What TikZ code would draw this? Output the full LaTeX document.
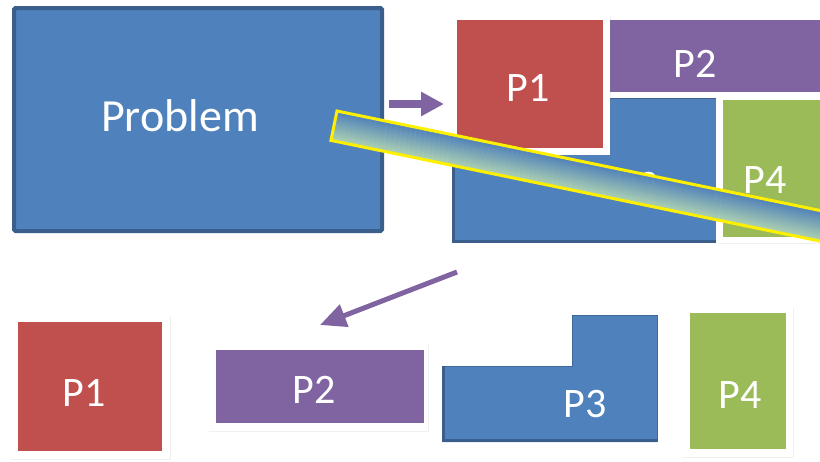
\documentclass[tikz,border=0pt]{standalone}
\usepackage{fontspec}
\setmainfont{Carlito}
\usetikzlibrary{arrows.meta,shadows}
\definecolor{pblue}{HTML}{4F81BD}
\definecolor{pdark}{HTML}{3A5F8C}
\definecolor{pred}{HTML}{C0504D}
\definecolor{ppurple}{HTML}{8064A2}
\definecolor{pgreen}{HTML}{9BBB59}
\definecolor{bandtop}{HTML}{4F80BA}
\definecolor{bandbot}{HTML}{AED2B2}
\definecolor{pyellow}{HTML}{FFF000}
\tikzset{
  tilebox/.style={fill=white, inner sep=0pt, draw=none,
    drop shadow={shadow xshift=1pt, shadow yshift=-1.2pt, opacity=0.12}},
  lbl/.style={text=white, inner sep=0pt, font=\fontsize{42}{46}\selectfont}
}
\begin{document}
\begin{tikzpicture}[x=1pt,y=-1pt]
\useasboundingbox (0,0) rectangle (820,461);
\clip (0,0) rectangle (820,461);
% Problem box
\draw[fill=pblue, draw=pdark, line width=4pt, rounded corners=1.5pt] (14,8) rectangle (382,231);
\node[text=white, inner sep=0pt, font=\fontsize{46}{50}\selectfont] (prob) at (180,116) {Problem};
\coordinate (probR) at (389,104);
\coordinate (compL) at (444,104);
% small arrow
\draw[ppurple, line width=8pt, -{Triangle[length=23pt,width=23pt]}] (probR) -- (compL);
% composite: blue P3
\draw[fill=pblue, draw=pdark, line width=3pt] (453,241) -- (453,150) -- (605,150) -- (605,97) -- (722,97) -- (722,241) -- cycle;
\node[lbl] (cp3) at (637,186) {P3};
% P2 tile
\path[tilebox] (604,14) rectangle (840,98);
\fill[ppurple] (610,20) rectangle (840,92);
\node[lbl] (cp2) at (695,64) {P2};
% P1 tile
\path[tilebox] (451,14) rectangle (610,155);
\fill[pred] (457,20) rectangle (603,148);
\node[lbl] (cp1) at (528,88) {P1};
% P4 tile
\path[tilebox] (716,94) rectangle (840,243);
\fill[pgreen] (723,100) rectangle (840,237);
\node[lbl] (cp4) at (765,180) {P4};
% band (gradient across its width: blue at top edge, pale green at bottom edge)
\begin{scope}[transform canvas={shift={(337,111)}, rotate=-11.64}]
\foreach \i in {0,...,29}{
  \pgfmathsetmacro{\pp}{100-\i*100/29}
  \fill[bandtop!\pp!bandbot] (0,\i) rectangle (640,\i+1.4);
}
\draw[draw=pyellow, line width=3pt] (0,0) rectangle (640,30);
\end{scope}
% bottom arrow
\coordinate (arrS) at (457,272);
\coordinate (arrE) at (320,325);
\draw[ppurple, line width=5pt, -{Triangle[length=26pt,width=23pt]}] (arrS) -- (arrE);
% bottom row
\path[tilebox] (10,315) rectangle (170,459);
\fill[pred] (18,322) rectangle (162,451);
\node[lbl] (bp1) at (84,393) {P1};
\path[tilebox] (208,343) rectangle (428,431);
\fill[ppurple] (216,350) rectangle (424,423);
\node[lbl] (bp2) at (314,390) {P2};
\fill[pblue] (442,366) -- (572,366) -- (572,315) -- (657,315) -- (657,442) -- (442,442) -- cycle;
\draw[pblue!80!black, line width=1pt] (442,366) -- (572,366) -- (572,315) -- (657,315) -- (657,442);
\draw[pdark, line width=3pt] (443.5,366) -- (443.5,440.5) -- (657,440.5);
\node[lbl] (bp3) at (585,404) {P3};
\path[tilebox] (682,307) rectangle (793,457);
\fill[pgreen] (690,313) rectangle (786,449);
\node[lbl] (bp4) at (740,395) {P4};
\end{tikzpicture}
\end{document}
